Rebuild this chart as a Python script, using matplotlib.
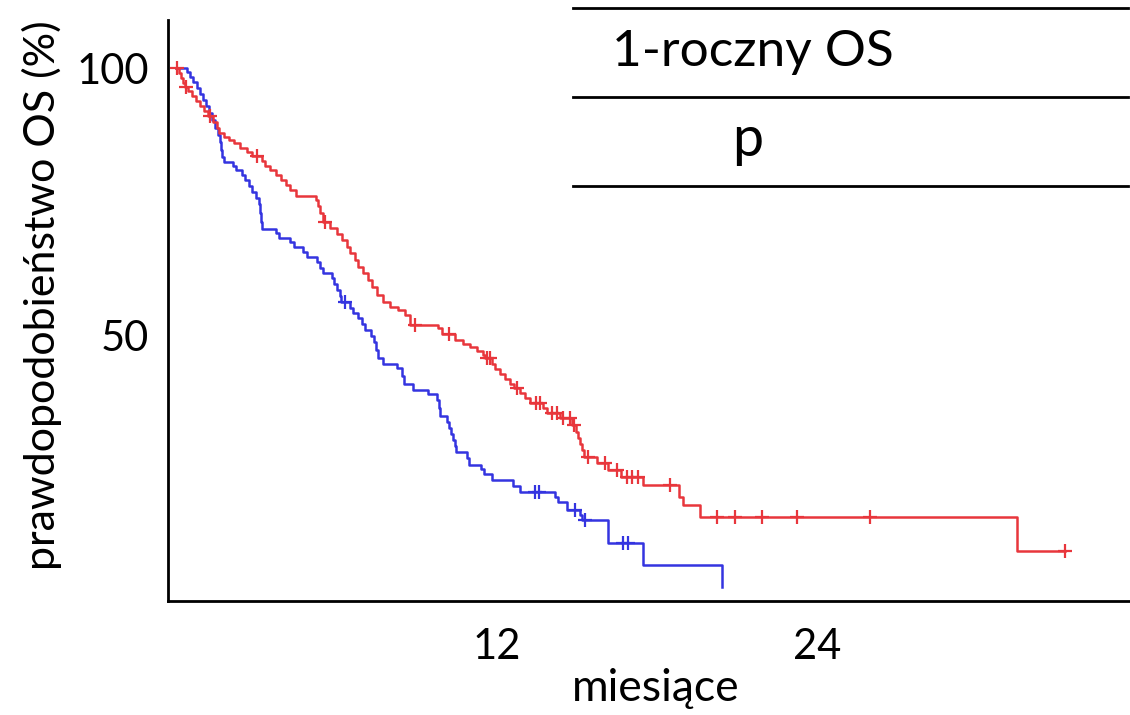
import numpy as np
import matplotlib
matplotlib.use("Agg")
import matplotlib.pyplot as plt
from matplotlib.lines import Line2D

plt.rcParams['font.family'] = ['Lato', 'DejaVu Sans']

# ---- data (months, OS %) ----
blue_time = [0, 0.41, 0.52, 0.64, 0.79, 0.90, 1.01, 1.12, 1.23, 1.35, 1.46, 1.57, 1.64, 1.68, 1.72, 1.79,
             2.13, 2.24, 2.47, 2.58, 2.73, 2.84, 2.99, 3.10, 3.14, 3.18, 3.21, 3.74, 3.85, 4.26, 4.41,
             4.75, 4.90, 5.27, 5.38, 5.50, 5.83, 5.91, 6.02, 6.13, 6.17, 6.50, 6.62, 6.80, 6.95, 7.07,
             7.29, 7.40, 7.48, 7.55, 7.74, 8.26, 8.45, 8.52, 8.86, 9.42, 9.76, 9.83, 9.87, 10.13, 10.21,
             10.28, 10.36, 10.43, 10.47, 10.88, 10.95, 11.40, 11.51, 11.81, 12.60, 12.86, 14.17, 14.28,
             14.62, 15.10, 15.21, 16.15, 17.46, 20.45]
blue_surv = [100, 99.25, 98.31, 97.38, 96.25, 95.13, 94.01, 92.88, 91.57, 90.26, 88.76, 87.45, 86.14,
             84.64, 83.33, 82.40, 81.65, 80.90, 79.96, 79.03, 77.90, 76.78, 75.66, 74.53, 72.85, 71.16,
             69.85, 69.10, 68.16, 67.42, 66.48, 65.54, 64.61, 63.67, 62.55, 61.61, 60.67, 59.55, 58.43,
             57.30, 56.18, 55.06, 54.12, 53.18, 52.06, 50.94, 49.81, 48.69, 47.19, 45.69, 44.57, 43.82,
             42.32, 40.82, 39.70, 38.95, 37.83, 36.33, 34.83, 33.71, 32.58, 31.46, 30.34, 29.21, 28.09,
             26.97, 25.66, 24.91, 23.97, 22.85, 21.72, 20.60, 19.66, 18.73, 17.23, 16.29, 15.36, 11.05,
             6.93, 2.81]
blue_censor = [6.32, 13.42, 13.57, 14.92, 15.29, 16.71, 16.93]

red_time = [0, 0.11, 0.19, 0.26, 0.34, 0.45, 0.60, 0.75, 0.90, 1.05, 1.20, 1.38, 1.53, 1.61, 1.79, 1.98,
            2.17, 2.39, 2.65, 2.84, 3.21, 3.33, 3.51, 3.74, 3.93, 4.11, 4.26, 4.49, 5.23, 5.31, 5.38,
            5.50, 5.76, 6.02, 6.21, 6.39, 6.50, 6.69, 6.80, 6.99, 7.18, 7.33, 7.51, 7.74, 8.00, 8.30,
            8.56, 8.75, 9.79, 9.94, 10.43, 10.73, 10.99, 11.25, 11.48, 11.55, 11.81, 11.93, 12.11, 12.30,
            12.49, 12.64, 12.86, 13.05, 13.23, 13.72, 13.87, 14.36, 14.80, 14.95, 15.03, 15.10, 15.18,
            15.25, 15.74, 16.15, 16.67, 17.46, 18.84, 18.99, 19.59, 31.48, 33.27]
red_surv = [100, 99.06, 98.13, 97.19, 96.44, 95.69, 94.76, 93.82, 92.88, 91.95, 91.01, 89.89, 88.76,
            87.83, 87.08, 86.52, 85.96, 85.02, 84.27, 83.52, 82.58, 81.65, 80.90, 79.96, 79.03, 78.09,
            77.15, 76.03, 75.28, 74.16, 72.85, 71.16, 70.04, 68.91, 67.79, 66.48, 65.36, 64.04, 62.73,
            61.61, 60.30, 58.99, 57.49, 56.18, 55.24, 54.68, 53.75, 51.87, 51.31, 50.19, 49.06, 48.31,
            47.75, 47.00, 46.25, 45.69, 44.57, 43.63, 42.70, 41.76, 40.82, 40.07, 39.14, 38.20, 37.27,
            36.33, 35.39, 34.46, 33.15, 31.84, 30.71, 29.59, 28.46, 27.15, 26.03, 24.72, 23.41, 21.91,
            19.66, 18.16, 15.92, 9.55, 9.55]
red_censor = [0.02, 0.37, 1.27, 3.03, 5.57, 8.93, 10.21, 11.63, 11.74, 12.75, 13.46, 13.61, 14.06,
              14.24, 14.47, 14.73, 14.88, 15.40, 16.04, 16.52, 16.86, 17.05, 17.27, 18.47, 20.26,
              20.90, 21.94, 23.25, 25.98, 33.27]

x_ticks = [12, 24]
y_ticks = [50, 100]
x_label = "miesiące"
y_label = "prawdopodobieństwo OS (%)"
table_rows = ["1-roczny OS", "p"]

BLUE = "#3434e0"
RED = "#e8363c"


def surv_at(times, surv, t):
    idx = np.searchsorted(times, t, side='right') - 1
    return np.asarray(surv)[idx]


fig = plt.figure(figsize=(11.3, 7.15), dpi=100)
ax = fig.add_axes([168 / 1130, 1 - 600.5 / 715, 1 - 168 / 1130, (600.5 - 20) / 715])

ax.step(blue_time, blue_surv, where='post', color=BLUE, lw=1.8)
ax.step(red_time, red_surv, where='post', color=RED, lw=1.8)
ax.plot(blue_censor, surv_at(blue_time, blue_surv, blue_censor), ls='none', marker='+',
        color=BLUE, ms=10, mew=1.6)
ax.plot(red_censor, surv_at(red_time, red_surv, red_censor), ls='none', marker='+',
        color=RED, ms=10, mew=1.6)

ax.set_xlim(-0.3, 35.7)
ax.set_ylim(0.3, 109)
ax.set_xticks(x_ticks)
ax.set_xticklabels([str(v) for v in x_ticks])
ax.set_yticks(y_ticks)
ax.set_yticklabels([str(v) for v in y_ticks])
ax.tick_params(axis='both', length=0, labelsize=30)
ax.tick_params(axis='x', pad=20)
ax.tick_params(axis='y', pad=14)
for s in ['top', 'right']:
    ax.spines[s].set_visible(False)
for s in ['left', 'bottom']:
    ax.spines[s].set_linewidth(2)
    ax.spines[s].set_color('black')

ax.set_xlabel(x_label, fontsize=32)
ax.xaxis.set_label_coords((656 - 168) / 962, (600.5 - 668) / 580.5)
ax.set_ylabel(y_label, fontsize=31)
ax.yaxis.set_label_coords((62 - 168) / 962, (600.5 - 295) / 580.5)

# table at top right
for yp in [8, 97, 186]:
    fig.add_artist(Line2D([573 / 1130, 1128 / 1130], [1 - yp / 715, 1 - yp / 715],
                          color='black', lw=2, transform=fig.transFigure))
fig.text(612 / 1130, 1 - 52 / 715, table_rows[0], fontsize=37, ha='left', va='center')
fig.text(748 / 1130, 1 - 140 / 715, table_rows[1], fontsize=40, ha='center', va='center')

fig.savefig("out.png", dpi=100)
